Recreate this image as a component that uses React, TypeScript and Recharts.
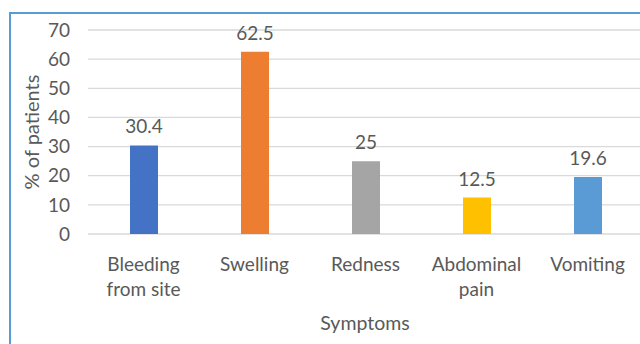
import { Bar, BarChart, CartesianGrid, Cell, LabelList, XAxis, YAxis } from "recharts";

const symptoms = ["Bleeding from site", "Swelling", "Redness", "Abdominal pain", "Vomiting"];
const tickLines = [["Bleeding", "from site"], ["Swelling"], ["Redness"], ["Abdominal", "pain"], ["Vomiting"]];
const percentPatients = [30.4, 62.5, 25, 12.5, 19.6];
const barColors = ["#4472c4", "#ed7d31", "#a5a5a5", "#ffc000", "#5b9bd5"];
const yTicks = [0, 10, 20, 30, 40, 50, 60, 70];

const data = symptoms.map((name, i) => ({ name, value: percentPatients[i] }));

const FONT = "Lato, 'Open Sans', sans-serif";
const TEXT = "#595959";

// two-line category labels, first baseline ~29px below the tick anchor
function CategoryTick({ x, y, index }: any) {
  const lines = tickLines[index] ?? [];
  return (
    <text x={x} y={y} textAnchor="middle" fill={TEXT} fontSize={19} fontFamily={FONT}>
      {lines.map((line, i) => (
        <tspan key={i} x={x} dy={i === 0 ? 29 : 25}>
          {line}
        </tspan>
      ))}
    </text>
  );
}

export default function App() {
  return (
    <div style={{ position: "fixed", left: 0, top: 0, width: 640, height: 344, overflow: "hidden", background: "#fff" }}>
      <div
        style={{
          position: "absolute",
          left: 9,
          top: 12,
          width: 700,
          height: 400,
          borderTop: "2px solid #5b9bd5",
          borderLeft: "2px solid #5b9bd5",
        }}
      />
      <div style={{ position: "absolute", left: 0, top: 0 }}>
        <BarChart width={700} height={344} data={data} margin={{ top: 30, right: 57, bottom: 0, left: 0 }}>
          <CartesianGrid vertical={false} stroke="#d9d9d9" strokeWidth={1.3} />
          <XAxis
            dataKey="name"
            height={110}
            axisLine={false}
            tickLine={false}
            interval={0}
            tick={<CategoryTick />}
            label={{
              content: () => (
                <text x={365} y={330} textAnchor="middle" fill={TEXT} fontSize={19.5} fontFamily={FONT}>
                  Symptoms
                </text>
              ),
            }}
          />
          <YAxis
            width={88}
            domain={[0, 70]}
            ticks={yTicks}
            axisLine={false}
            tickLine={false}
            tickMargin={12}
            tick={{ fill: TEXT, fontSize: 19, fontFamily: FONT }}
            label={{
              content: () => (
                <text
                  x={31}
                  y={132}
                  transform="rotate(-90 31 132)"
                  textAnchor="middle"
                  dominantBaseline="central"
                  fill={TEXT}
                  fontSize={20}
                  fontFamily={FONT}
                >
                  % of patients
                </text>
              ),
            }}
          />
          <Bar dataKey="value" barSize={28} isAnimationActive={false}>
            {data.map((d, i) => (
              <Cell key={d.name} fill={barColors[i]} />
            ))}
            <LabelList dataKey="value" position="top" offset={12} fill={TEXT} fontSize={19} fontFamily={FONT} />
          </Bar>
        </BarChart>
      </div>
    </div>
  );
}
